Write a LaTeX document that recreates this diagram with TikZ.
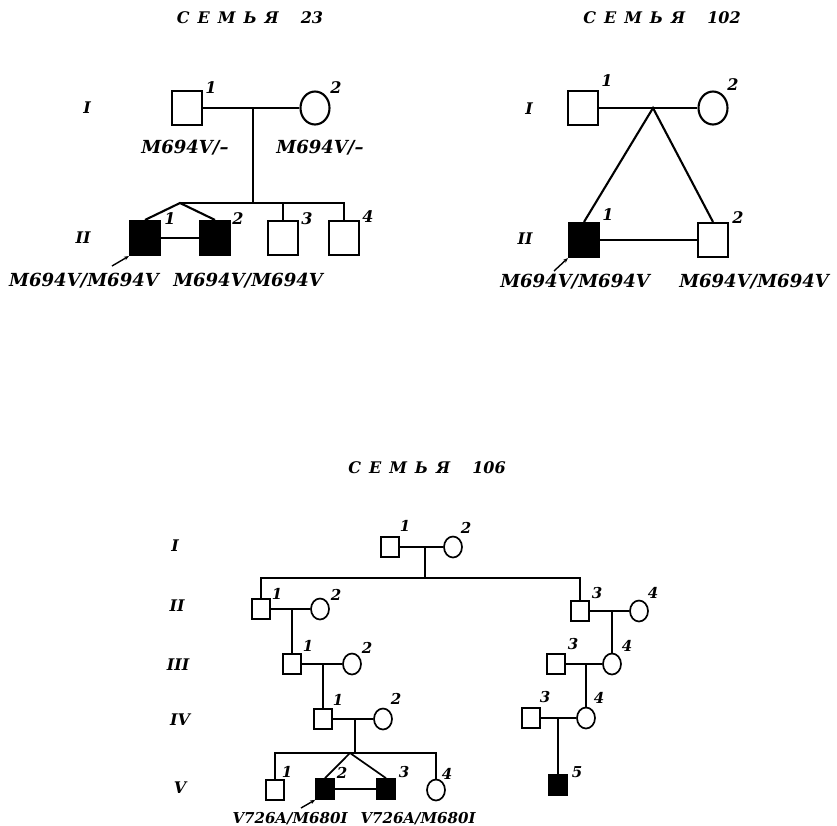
\documentclass[tikz,border=0pt]{standalone}
\usepackage{fontspec}
\setmainfont{DejaVu Serif}
\usetikzlibrary{shapes.geometric,arrows.meta}
\begin{document}
\begin{tikzpicture}[x=1pt,y=-1pt,
 ln/.style={line width=2.1pt},
 lnB/.style={line width=1.7pt},
 sqA/.style={draw,rectangle,line width=2.1pt,minimum width=30pt,minimum height=34pt,inner sep=0pt},
 ciA/.style={draw,ellipse,line width=2.1pt,minimum width=29pt,minimum height=33pt,inner sep=0pt},
 sqB/.style={draw,rectangle,line width=1.7pt,minimum width=18pt,minimum height=20pt,inner sep=0pt},
 ciB/.style={draw,ellipse,line width=1.7pt,minimum width=18pt,minimum height=21pt,inner sep=0pt},
 aff/.style={fill=black},
 ttl/.style={font=\fontsize{16}{16}\selectfont\bfseries\itshape,inner sep=0pt},
 gen/.style={font=\fontsize{16}{16}\selectfont\bfseries\itshape,inner sep=0pt},
 numA/.style={font=\fontsize{16}{16}\selectfont\bfseries\itshape,inner sep=0pt},
 numB/.style={font=\fontsize{15}{15}\selectfont\bfseries\itshape,inner sep=0pt},
 gtA/.style={font=\fontsize{18}{18}\selectfont\bfseries\itshape,inner sep=0pt,anchor=base},
 gtB/.style={font=\fontsize{15}{15}\selectfont\bfseries\itshape,inner sep=0pt,anchor=base},
 prb/.style={line width=1.4pt,-{Stealth[length=5pt,width=4pt]}},
]
\useasboundingbox (0,0) rectangle (837,825);
% ---------------- Family 23 ----------------
\node[ttl] (t23) at (250,18) {С\hspace{8pt}Е\hspace{8pt}М\hspace{8pt}Ь\hspace{8pt}Я\hspace{22pt}23};
\node[gen] (g23a) at (87,108) {I};
\node[gen] (g23b) at (83,238) {II};
\node[sqA] (a1) at (187,108) {};
\node[ciA] (a2) at (315,108) {};
\node[numA] (na1) at (211,88) {1};
\node[numA] (na2) at (336,88) {2};
\coordinate (am) at (253,108);
\coordinate (as) at (253,203);
\coordinate (at) at (180,203);
\draw[ln] (a1) -- (a2);
\draw[ln] (am) -- (as);
\node[sqA,aff] (a3) at (145,238) {};
\node[sqA,aff] (a4) at (215,238) {};
\node[sqA] (a5) at (283,238) {};
\node[sqA] (a6) at (344,238) {};
\draw[ln] (at) -- (a6.north |- at) -- (a6.north);
\draw[ln] (a5.north |- at) -- (a5.north);
\draw[ln] (a3.north) -- (at) -- (a4.north);
\draw[ln] (a3) -- (a4);
\node[numA] (na3) at (170,219) {1};
\node[numA] (na4) at (238,219) {2};
\node[numA] (na5) at (307,219) {3};
\node[numA] (na6) at (368,217) {4};
\coordinate (ap) at (112,266);
\draw[prb] (ap) -- (a3.south west);
\node[gtA] (ga1) at (185,153) {M694V/–};
\node[gtA] (ga2) at (320,153) {M694V/–};
\node[gtA] (ga3) at (84,286) {M694V/M694V};
\node[gtA] (ga4) at (248,286) {M694V/M694V};
% ---------------- Family 102 ----------------
\node[ttl] (t102) at (662,18) {С\hspace{8pt}Е\hspace{8pt}М\hspace{8pt}Ь\hspace{8pt}Я\hspace{22pt}102};
\node[gen] (g102a) at (529,109) {I};
\node[gen] (g102b) at (525,239) {II};
\node[sqA] (b1) at (583,108) {};
\node[ciA] (b2) at (713,108) {};
\node[numA] (nb1) at (607,81) {1};
\node[numA] (nb2) at (733,85) {2};
\coordinate (bm) at (653,108);
\draw[ln] (b1) -- (b2);
\node[sqA,aff] (b3) at (584,240) {};
\node[sqA] (b4) at (713,240) {};
\draw[ln] (b3.north) -- (bm) -- (b4.north);
\draw[ln] (b3) -- (b4);
\node[numA] (nb3) at (608,215) {1};
\node[numA] (nb4) at (738,218) {2};
\coordinate (bp) at (554,271);
\draw[prb] (bp) -- (b3.south west);
\node[gtA] (gb1) at (575,287) {M694V/M694V};
\node[gtA] (gb2) at (754,287) {M694V/M694V};
% ---------------- Family 106 ----------------
\node[ttl] (t106) at (427,468) {С\hspace{8pt}Е\hspace{8pt}М\hspace{8pt}Ь\hspace{8pt}Я\hspace{22pt}106};
\node[gen] (g1) at (175,546) {I};
\node[gen] (g2) at (177,606) {II};
\node[gen] (g3) at (178,665) {III};
\node[gen] (g4) at (180,720) {IV};
\node[gen] (g5) at (180,788) {V};
% generation I
\node[sqB] (c1) at (390,547) {};
\node[ciB] (c2) at (453,547) {};
\node[numB] (n1) at (405,526) {1};
\node[numB] (n2) at (466,528) {2};
\draw[lnB] (c1) -- (c2);
\coordinate (cm) at (425,547);
\coordinate (cs) at (425,578);
\draw[lnB] (cm) -- (cs);
% generation II
\node[sqB] (c3) at (261,609) {};
\node[ciB] (c4) at (320,609) {};
\node[sqB] (c5) at (580,611) {};
\node[ciB] (c7) at (639,611) {};
\draw[lnB] (c3.north) -- (c3.north |- cs) -- (c5.north |- cs) -- (c5.north);
\draw[lnB] (c3) -- (c4);
\draw[lnB] (c5) -- (c7);
\node[numB] (n3) at (277,594) {1};
\node[numB] (n4) at (336,595) {2};
\node[numB] (n5) at (597,593) {3};
\node[numB] (n7) at (653,593) {4};
% generation III
\node[sqB] (c6) at (292,664) {};
\node[ciB] (c8) at (352,664) {};
\node[sqB] (c10) at (556,664) {};
\node[ciB] (c9) at (612,664) {};
\coordinate (d2a) at (292,609);
\coordinate (d2b) at (612,611);
\draw[lnB] (d2a) -- (c6.north);
\draw[lnB] (d2b) -- (c9.north);
\draw[lnB] (c6) -- (c8);
\draw[lnB] (c10) -- (c9);
\node[numB] (n6) at (308,646) {1};
\node[numB] (n8) at (367,648) {2};
\node[numB] (n10) at (573,644) {3};
\node[numB] (n9) at (627,646) {4};
% generation IV
\node[sqB] (c11) at (323,719) {};
\node[ciB] (c13) at (383,719) {};
\node[sqB] (c14) at (531,718) {};
\node[ciB] (c12) at (586,718) {};
\coordinate (d3a) at (323,664);
\coordinate (d3b) at (586,664);
\draw[lnB] (d3a) -- (c11.north);
\draw[lnB] (d3b) -- (c12.north);
\draw[lnB] (c11) -- (c13);
\draw[lnB] (c14) -- (c12);
\node[numB] (n11) at (338,700) {1};
\node[numB] (n13) at (396,699) {2};
\node[numB] (n14) at (545,697) {3};
\node[numB] (n12) at (599,698) {4};
% generation V
\node[sqB] (c15) at (275,790) {};
\node[sqB,aff] (c16) at (325,789) {};
\node[sqB,aff] (c17) at (386,789) {};
\node[ciB] (c18) at (436,790) {};
\node[sqB,aff] (c19) at (558,785) {};
\coordinate (d4a) at (355,719);
\coordinate (vs) at (355,753);
\coordinate (vt) at (350,753);
\draw[lnB] (d4a) -- (vs);
\draw[lnB] (c15.north) -- (c15.north |- vs) -- (c18.north |- vs) -- (c18.north);
\draw[lnB] (c16.north) -- (vt) -- (c17.north);
\draw[lnB] (c16) -- (c17);
\coordinate (d4b) at (558,718);
\draw[lnB] (d4b) -- (c19.north);
\node[numB] (n15) at (287,772) {1};
\node[numB] (n16) at (342,773) {2};
\node[numB] (n17) at (404,772) {3};
\node[numB] (n18) at (447,774) {4};
\node[numB] (n19) at (577,772) {5};
\coordinate (cp) at (301,808);
\draw[prb] (cp) -- (c16.south west);
\node[gtB] (gc1) at (290,823) {V726A/M680I};
\node[gtB] (gc2) at (418,823) {V726A/M680I};
\end{tikzpicture}
\end{document}
